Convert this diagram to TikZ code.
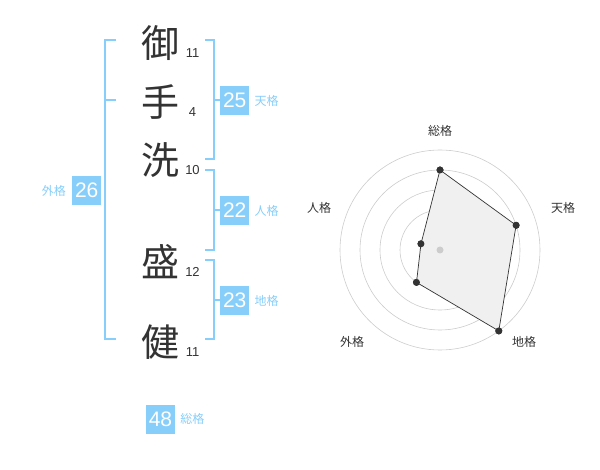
\documentclass[tikz,border=0pt]{standalone}
\usepackage{fontspec}
\usepackage{xcolor}
\usetikzlibrary{positioning}
\setmainfont{Liberation Sans}
\newfontfamily\cjk{Noto Sans CJK JP}
\definecolor{kaku}{HTML}{87CEFA}
\definecolor{ink}{HTML}{333333}
\definecolor{ring}{HTML}{CCCCCC}
\definecolor{area}{HTML}{F0F0F0}

\begin{document}
\begin{tikzpicture}[x=1pt,y=1pt]
    	\tikzstyle{kanji}=[font=\cjk\fontsize{38}{38}\selectfont, text=ink, inner sep=0pt]
    	\tikzstyle{strokes}=[font=\fontsize{13}{13}\selectfont, text=ink, inner sep=0pt]
    	\tikzstyle{numbox}=[fill=kaku, text=white, minimum size=29pt, inner sep=0pt, font=\fontsize{21}{21}\selectfont]
    	\tikzstyle{kakulabel}=[font=\cjk\fontsize{12}{12}\selectfont, text=kaku, inner sep=0pt]
    	\tikzstyle{bracket}=[draw=kaku, line width=1.6pt]
    	\tikzstyle{axislabel}=[font=\cjk\fontsize{12}{12}\selectfont, text=ink, inner sep=0pt]
    	\tikzstyle{dot}=[circle, fill=ink, inner sep=0pt, minimum size=7pt]
    	
    	\useasboundingbox (0,0) rectangle (600,-470);
    	
    	% Name
    	\foreach \ch/\y/\n [count=\i] in {御/43/11, 手/101.7/4, 洗/160/10, 盛/261.7/12, 健/341.7/11}
    	{
    	\node[kanji] (char_\i) at (160,-\y) {\ch};
    	\node[strokes] (strokes_\i) at (192.5,-\y-10.5) {\n};
    	}
    	
    	% Brackets
    	\draw[bracket] (116,-40) -- (105,-40) -- (105,-339) -- (116,-339);
    	\draw[bracket] (105,-100) -- (116,-100);
    	\draw[bracket] (205,-40) -- (214,-40) -- (214,-159) -- (205,-159);
    	\draw[bracket] (214,-100) -- (220,-100);
    	\draw[bracket] (205,-170) -- (214,-170) -- (214,-250) -- (205,-250);
    	\draw[bracket] (214,-210) -- (220,-210);
    	\draw[bracket] (205,-260) -- (214,-260) -- (214,-339) -- (205,-339);
    	\draw[bracket] (214,-300) -- (220,-300);
    	
    	% Scores
    	\node[numbox] (ten) at (234.7,-100.5) {25};
    	\node[kakulabel, right=5pt of ten] (ten_label) {天格};
    	\node[numbox] (jin) at (234.7,-210.5) {22};
    	\node[kakulabel, right=5pt of jin] (jin_label) {人格};
    	\node[numbox] (chi) at (234.7,-300.5) {23};
    	\node[kakulabel, right=5pt of chi] (chi_label) {地格};
    	\node[numbox] (gai) at (86.7,-190.5) {26};
    	\node[kakulabel, left=6pt of gai] (gai_label) {外格};
    	\node[numbox] (sou) at (160.5,-419) {48};
    	\node[kakulabel, right=5pt of sou] (sou_label) {総格};
    	
    	% Radar
    	\begin{scope}[shift={(440,-250)}]
    	\foreach \r in {20,40,60,80,100}
    	\draw[ring, line width=0.6pt] (0,0) circle (\r);
    	
    	\node[dot] (p_1) at (90:80) {};
    	\node[dot] (p_2) at (18:80) {};
    	\node[dot] (p_3) at (-54:100) {};
    	\node[dot] (p_4) at (-126:40) {};
    	\node[dot] (p_5) at (162:20) {};
    	\fill[area] (p_1.center) -- (p_2.center) -- (p_3.center) -- (p_4.center) -- (p_5.center) -- cycle;
    	\draw[ink, line width=0.7pt] (p_1.center) -- (p_2.center) -- (p_3.center) -- (p_4.center) -- (p_5.center) -- cycle;
    	\foreach \i in {1,...,5}
    	\node[dot] at (p_\i) {};
    	\node[circle, fill=ring, inner sep=0pt, minimum size=7pt] (center) at (0,0) {};
    	\end{scope}
    	
    	\node[axislabel] (ax_sou) at (440,-130.7) {総格};
    	\node[axislabel] (ax_ten) at (563,-208) {天格};
    	\node[axislabel] (ax_chi) at (524,-342) {地格};
    	\node[axislabel] (ax_gai) at (352,-342) {外格};
    	\node[axislabel] (ax_jin) at (319,-208) {人格};

\end{tikzpicture}
\end{document}
